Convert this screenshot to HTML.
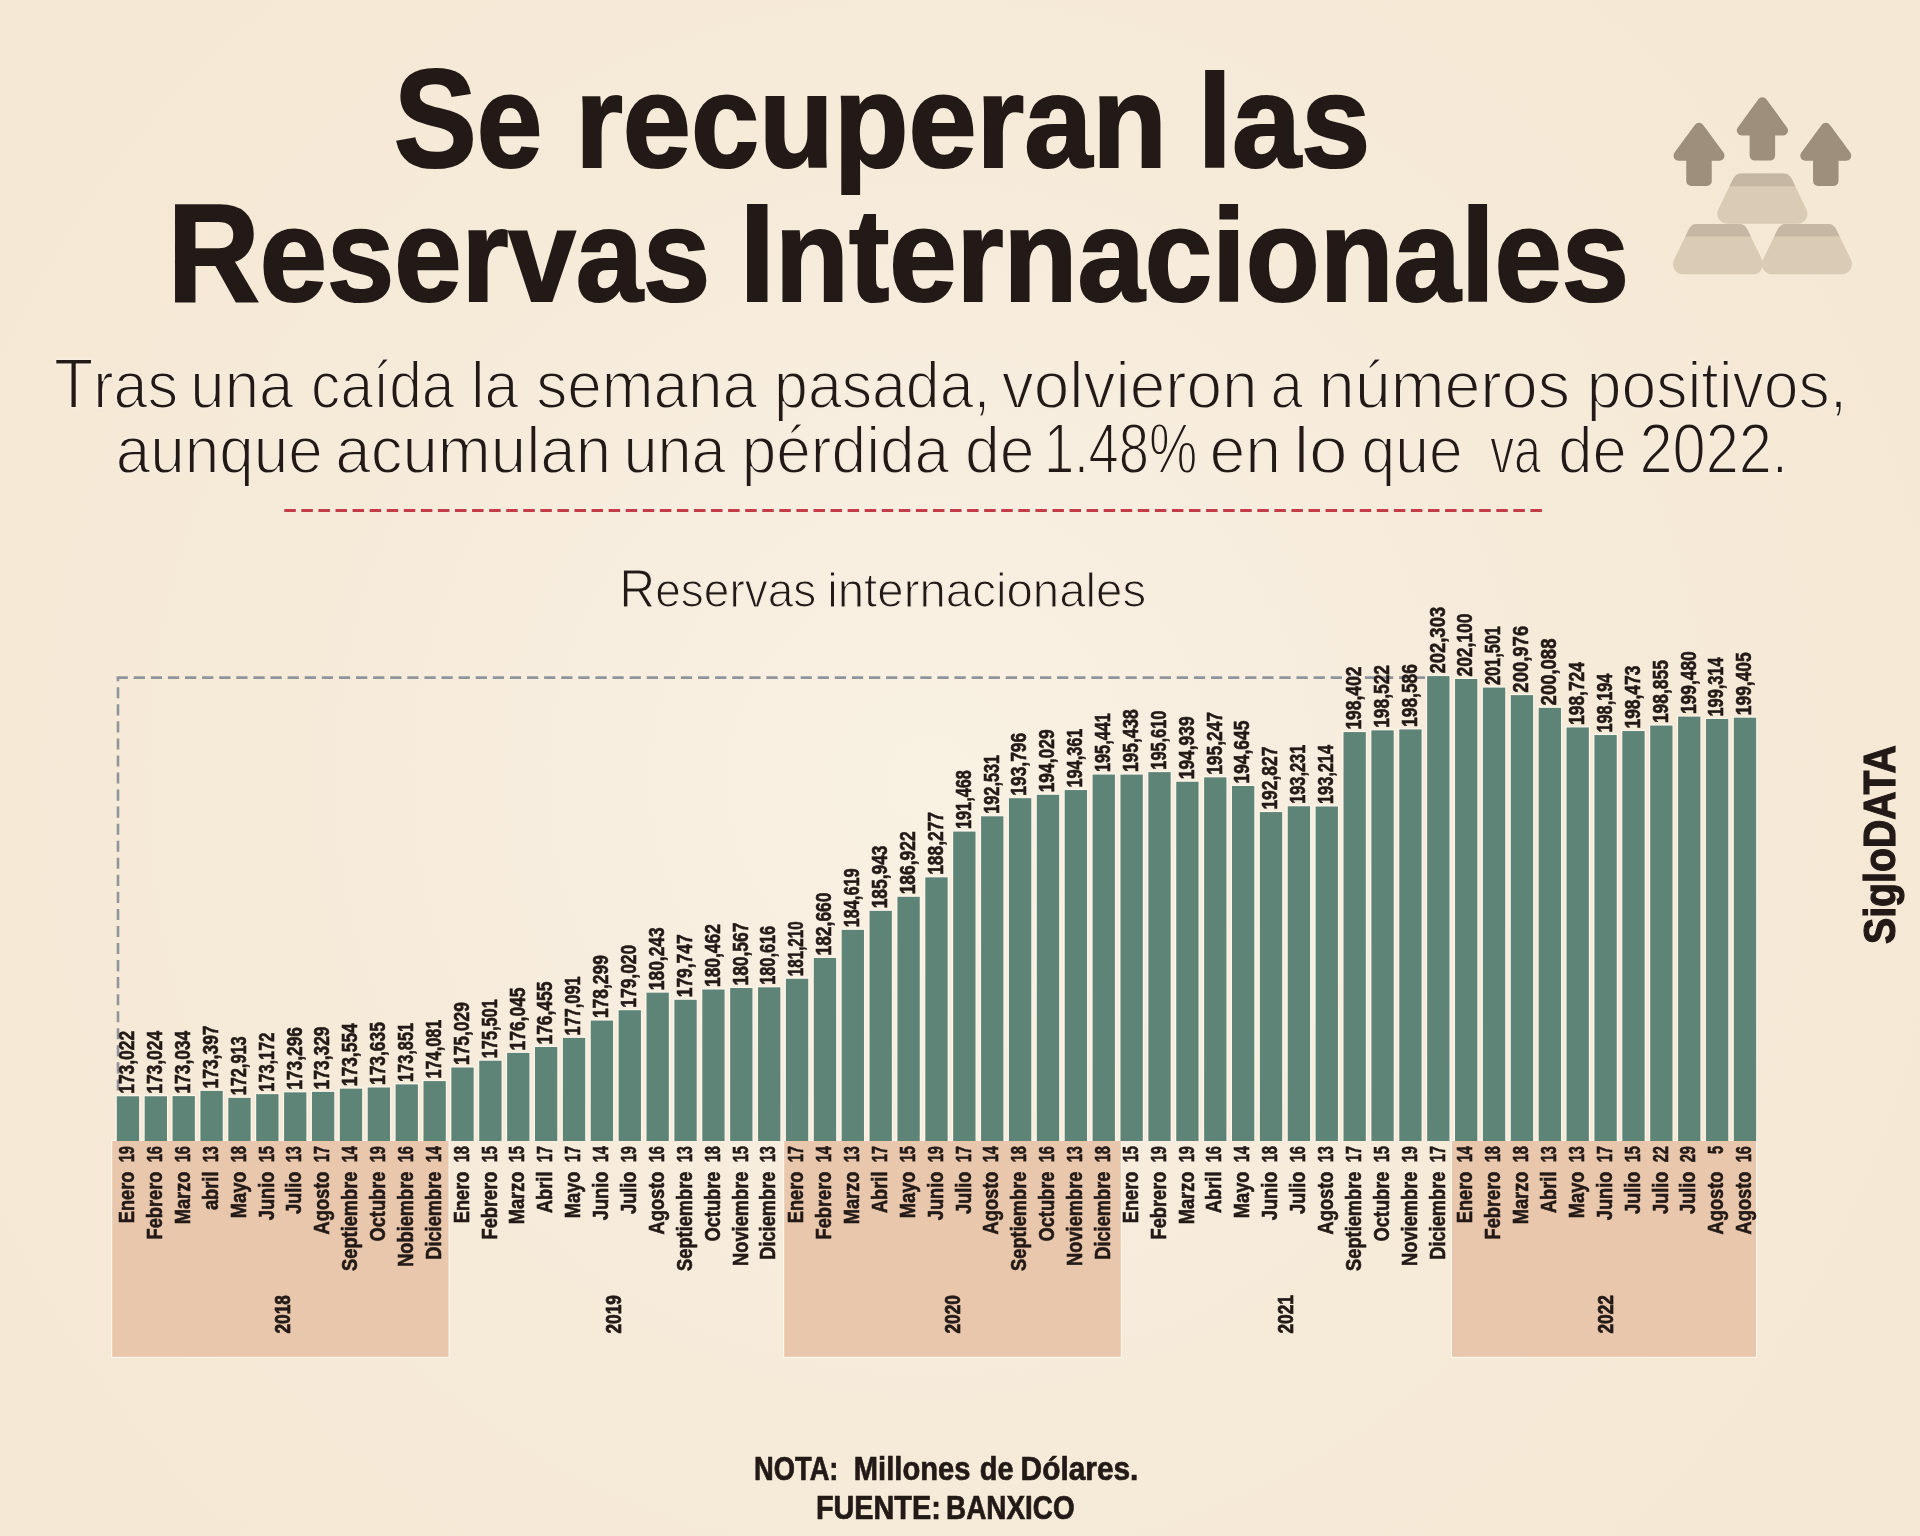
<!DOCTYPE html><html><head><meta charset="utf-8"><title>Reservas Internacionales</title><style>
html,body{margin:0;padding:0;width:1920px;height:1536px;overflow:hidden;}
body{background:#f5e8d6;}
svg{position:absolute;left:0;top:0;display:block;will-change:transform;}
text{font-family:"Liberation Sans",sans-serif;}
</style></head><body>
<svg width="1920" height="1536" viewBox="0 0 1920 1536">
<defs><radialGradient id="bgg" cx="930" cy="780" r="1050" gradientUnits="userSpaceOnUse">
<stop offset="0" stop-color="#f9f1e2"/>
<stop offset="0.3" stop-color="#f8eee0"/>
<stop offset="0.6" stop-color="#f6ebd9"/>
<stop offset="1" stop-color="#f5e8d5"/>
</radialGradient></defs>
<rect x="0" y="0" width="1920" height="1536" fill="url(#bgg)"/>
<text x="393.79" y="167.00" font-size="131.50" font-weight="bold" fill="#231a17" textLength="148.57" lengthAdjust="spacingAndGlyphs" stroke="#231a17" stroke-width="2.2"><tspan font-size="139">S</tspan>e</text>
<text x="575.23" y="167.00" font-size="131.50" font-weight="bold" fill="#231a17" textLength="591.83" lengthAdjust="spacingAndGlyphs" stroke="#231a17" stroke-width="2.2">recuperan</text>
<text x="1197.56" y="167.00" font-size="131.50" font-weight="bold" fill="#231a17" textLength="172.67" lengthAdjust="spacingAndGlyphs" stroke="#231a17" stroke-width="2.2">las</text>
<text x="167.55" y="301.00" font-size="131.50" font-weight="bold" fill="#231a17" textLength="542.56" lengthAdjust="spacingAndGlyphs" stroke="#231a17" stroke-width="2.2"><tspan font-size="139">R</tspan>eservas</text>
<text x="739.45" y="301.00" font-size="131.50" font-weight="bold" fill="#231a17" textLength="889.68" lengthAdjust="spacingAndGlyphs" stroke="#231a17" stroke-width="2.2"><tspan font-size="139">I</tspan>nternacionales</text>
<text x="54.03" y="408.00" font-size="67.50" font-weight="normal" fill="#231a17" textLength="124.13" lengthAdjust="spacingAndGlyphs" stroke="#f6ecdd" stroke-width="1.8"><tspan font-size="71">T</tspan>ras</text>
<text x="190.34" y="408.00" font-size="67.50" font-weight="normal" fill="#231a17" textLength="102.95" lengthAdjust="spacingAndGlyphs" stroke="#f6ecdd" stroke-width="1.8">una</text>
<text x="311.12" y="408.00" font-size="67.50" font-weight="normal" fill="#231a17" textLength="143.20" lengthAdjust="spacingAndGlyphs" stroke="#f6ecdd" stroke-width="1.8">caída</text>
<text x="470.98" y="408.00" font-size="67.50" font-weight="normal" fill="#231a17" textLength="47.50" lengthAdjust="spacingAndGlyphs" stroke="#f6ecdd" stroke-width="1.8">la</text>
<text x="536.15" y="408.00" font-size="67.50" font-weight="normal" fill="#231a17" textLength="220.82" lengthAdjust="spacingAndGlyphs" stroke="#f6ecdd" stroke-width="1.8">semana</text>
<text x="774.08" y="408.00" font-size="67.50" font-weight="normal" fill="#231a17" textLength="216.29" lengthAdjust="spacingAndGlyphs" stroke="#f6ecdd" stroke-width="1.8">pasada,</text>
<text x="1001.87" y="408.00" font-size="67.50" font-weight="normal" fill="#231a17" textLength="255.67" lengthAdjust="spacingAndGlyphs" stroke="#f6ecdd" stroke-width="1.8">volvieron</text>
<text x="1270.62" y="408.00" font-size="67.50" font-weight="normal" fill="#231a17" textLength="32.32" lengthAdjust="spacingAndGlyphs" stroke="#f6ecdd" stroke-width="1.8">a</text>
<text x="1318.80" y="408.00" font-size="67.50" font-weight="normal" fill="#231a17" textLength="251.26" lengthAdjust="spacingAndGlyphs" stroke="#f6ecdd" stroke-width="1.8">números</text>
<text x="1586.80" y="408.00" font-size="67.50" font-weight="normal" fill="#231a17" textLength="260.21" lengthAdjust="spacingAndGlyphs" stroke="#f6ecdd" stroke-width="1.8">positivos,</text>
<text x="115.83" y="473.00" font-size="67.50" font-weight="normal" fill="#231a17" textLength="207.03" lengthAdjust="spacingAndGlyphs" stroke="#f6ecdd" stroke-width="1.8">aunque</text>
<text x="335.28" y="473.00" font-size="67.50" font-weight="normal" fill="#231a17" textLength="275.75" lengthAdjust="spacingAndGlyphs" stroke="#f6ecdd" stroke-width="1.8">acumulan</text>
<text x="623.39" y="473.00" font-size="67.50" font-weight="normal" fill="#231a17" textLength="102.35" lengthAdjust="spacingAndGlyphs" stroke="#f6ecdd" stroke-width="1.8">una</text>
<text x="741.65" y="473.00" font-size="67.50" font-weight="normal" fill="#231a17" textLength="207.52" lengthAdjust="spacingAndGlyphs" stroke="#f6ecdd" stroke-width="1.8">pérdida</text>
<text x="964.99" y="473.00" font-size="67.50" font-weight="normal" fill="#231a17" textLength="69.52" lengthAdjust="spacingAndGlyphs" stroke="#f6ecdd" stroke-width="1.8">de</text>
<text x="1043.94" y="473.00" font-size="67.50" font-weight="normal" fill="#231a17" textLength="153.47" lengthAdjust="spacingAndGlyphs" stroke="#f6ecdd" stroke-width="1.8"><tspan font-size="71">1</tspan>.<tspan font-size="71">4</tspan><tspan font-size="71">8</tspan><tspan font-size="71">%</tspan></text>
<text x="1209.41" y="473.00" font-size="67.50" font-weight="normal" fill="#231a17" textLength="71.67" lengthAdjust="spacingAndGlyphs" stroke="#f6ecdd" stroke-width="1.8">en</text>
<text x="1293.68" y="473.00" font-size="67.50" font-weight="normal" fill="#231a17" textLength="54.01" lengthAdjust="spacingAndGlyphs" stroke="#f6ecdd" stroke-width="1.8">lo</text>
<text x="1361.56" y="473.00" font-size="67.50" font-weight="normal" fill="#231a17" textLength="101.00" lengthAdjust="spacingAndGlyphs" stroke="#f6ecdd" stroke-width="1.8">que</text>
<text x="1489.92" y="473.00" font-size="67.50" font-weight="normal" fill="#231a17" textLength="51.02" lengthAdjust="spacingAndGlyphs" stroke="#f6ecdd" stroke-width="1.8">va</text>
<text x="1558.27" y="473.00" font-size="67.50" font-weight="normal" fill="#231a17" textLength="68.46" lengthAdjust="spacingAndGlyphs" stroke="#f6ecdd" stroke-width="1.8">de</text>
<text x="1639.49" y="473.00" font-size="67.50" font-weight="normal" fill="#231a17" textLength="148.22" lengthAdjust="spacingAndGlyphs" stroke="#f6ecdd" stroke-width="1.8"><tspan font-size="71">2</tspan><tspan font-size="71">0</tspan><tspan font-size="71">2</tspan><tspan font-size="71">2</tspan>.</text>
<text x="754.06" y="1479.60" font-size="33.70" font-weight="bold" fill="#231a17" textLength="84.39" lengthAdjust="spacingAndGlyphs" stroke="#231a17" stroke-width="0.7">NOTA:</text>
<text x="853.82" y="1479.60" font-size="33.70" font-weight="bold" fill="#231a17" textLength="116.64" lengthAdjust="spacingAndGlyphs" stroke="#231a17" stroke-width="0.7">Millones</text>
<text x="979.76" y="1479.60" font-size="33.70" font-weight="bold" fill="#231a17" textLength="33.71" lengthAdjust="spacingAndGlyphs" stroke="#231a17" stroke-width="0.7">de</text>
<text x="1020.62" y="1479.60" font-size="33.70" font-weight="bold" fill="#231a17" textLength="117.77" lengthAdjust="spacingAndGlyphs" stroke="#231a17" stroke-width="0.7">Dólares.</text>
<text x="815.89" y="1518.70" font-size="33.70" font-weight="bold" fill="#231a17" textLength="124.87" lengthAdjust="spacingAndGlyphs" stroke="#231a17" stroke-width="0.7">FUENTE:</text>
<text x="946.10" y="1518.70" font-size="33.70" font-weight="bold" fill="#231a17" textLength="128.50" lengthAdjust="spacingAndGlyphs" stroke="#231a17" stroke-width="0.7">BANXICO</text>
<text x="619.32" y="607.20" font-size="49.00" font-weight="normal" fill="#231a17" textLength="197.05" lengthAdjust="spacingAndGlyphs" stroke="#f7eee1" stroke-width="1.2"><tspan font-size="53">R</tspan>eservas</text>
<text x="827.23" y="607.20" font-size="49.00" font-weight="normal" fill="#231a17" textLength="318.94" lengthAdjust="spacingAndGlyphs" stroke="#f7eee1" stroke-width="1.2">internacionales</text>
<line x1="284.3" y1="510.5" x2="1542" y2="510.5" stroke="#c43c48" stroke-width="2.8" stroke-dasharray="11.5 5.57"/>
<rect x="111.00" y="1139.80" width="338.70" height="218.20" fill="#fbf5ea"/>
<rect x="783.00" y="1139.80" width="339.00" height="218.20" fill="#fbf5ea"/>
<rect x="1450.80" y="1139.80" width="306.40" height="218.20" fill="#fbf5ea"/>
<rect x="112.20" y="1141.00" width="336.30" height="215.80" fill="#e9c7ac"/>
<rect x="784.20" y="1141.00" width="336.60" height="215.80" fill="#e9c7ac"/>
<rect x="1452.00" y="1141.00" width="304.00" height="215.80" fill="#e9c7ac"/>
<path d="M118 1090.5 V677.6" fill="none" stroke="#8f959b" stroke-width="2.6" stroke-dasharray="11.1 5.95"/>
<path d="M116.6 677.6 H1425" fill="none" stroke="#8f959b" stroke-width="2.6" stroke-dasharray="11.25 5.85"/>
<rect x="115.60" y="1095.10" width="24.70" height="45.90" fill="#fbf5ea"/>
<rect x="116.80" y="1096.30" width="22.30" height="44.70" fill="#5e8477" stroke="none" stroke-width="0"/>
<rect x="143.48" y="1095.07" width="24.70" height="45.93" fill="#fbf5ea"/>
<rect x="144.68" y="1096.27" width="22.30" height="44.73" fill="#5e8477" stroke="none" stroke-width="0"/>
<rect x="171.36" y="1094.92" width="24.70" height="46.08" fill="#fbf5ea"/>
<rect x="172.56" y="1096.12" width="22.30" height="44.88" fill="#5e8477" stroke="none" stroke-width="0"/>
<rect x="199.24" y="1089.71" width="24.70" height="51.29" fill="#fbf5ea"/>
<rect x="200.44" y="1090.91" width="22.30" height="50.09" fill="#5e8477" stroke="none" stroke-width="0"/>
<rect x="227.12" y="1096.66" width="24.70" height="44.34" fill="#fbf5ea"/>
<rect x="228.32" y="1097.86" width="22.30" height="43.14" fill="#5e8477" stroke="none" stroke-width="0"/>
<rect x="255.00" y="1092.94" width="24.70" height="48.06" fill="#fbf5ea"/>
<rect x="256.20" y="1094.14" width="22.30" height="46.86" fill="#5e8477" stroke="none" stroke-width="0"/>
<rect x="282.88" y="1091.16" width="24.70" height="49.84" fill="#fbf5ea"/>
<rect x="284.08" y="1092.36" width="22.30" height="48.64" fill="#5e8477" stroke="none" stroke-width="0"/>
<rect x="310.76" y="1090.69" width="24.70" height="50.31" fill="#fbf5ea"/>
<rect x="311.96" y="1091.89" width="22.30" height="49.11" fill="#5e8477" stroke="none" stroke-width="0"/>
<rect x="338.64" y="1087.46" width="24.70" height="53.54" fill="#fbf5ea"/>
<rect x="339.84" y="1088.66" width="22.30" height="52.34" fill="#5e8477" stroke="none" stroke-width="0"/>
<rect x="366.52" y="1086.30" width="24.70" height="54.70" fill="#fbf5ea"/>
<rect x="367.72" y="1087.50" width="22.30" height="53.50" fill="#5e8477" stroke="none" stroke-width="0"/>
<rect x="394.40" y="1083.20" width="24.70" height="57.80" fill="#fbf5ea"/>
<rect x="395.60" y="1084.40" width="22.30" height="56.60" fill="#5e8477" stroke="none" stroke-width="0"/>
<rect x="422.28" y="1079.90" width="24.70" height="61.10" fill="#fbf5ea"/>
<rect x="423.48" y="1081.10" width="22.30" height="59.90" fill="#5e8477" stroke="none" stroke-width="0"/>
<rect x="450.16" y="1066.29" width="24.70" height="74.71" fill="#fbf5ea"/>
<rect x="451.36" y="1067.49" width="22.30" height="73.51" fill="#5e8477" stroke="none" stroke-width="0"/>
<rect x="478.04" y="1059.52" width="24.70" height="81.48" fill="#fbf5ea"/>
<rect x="479.24" y="1060.72" width="22.30" height="80.28" fill="#5e8477" stroke="none" stroke-width="0"/>
<rect x="505.92" y="1051.71" width="24.70" height="89.29" fill="#fbf5ea"/>
<rect x="507.12" y="1052.91" width="22.30" height="88.09" fill="#5e8477" stroke="none" stroke-width="0"/>
<rect x="533.80" y="1045.83" width="24.70" height="95.17" fill="#fbf5ea"/>
<rect x="535.00" y="1047.03" width="22.30" height="93.97" fill="#5e8477" stroke="none" stroke-width="0"/>
<rect x="561.68" y="1036.70" width="24.70" height="104.30" fill="#fbf5ea"/>
<rect x="562.88" y="1037.90" width="22.30" height="103.10" fill="#5e8477" stroke="none" stroke-width="0"/>
<rect x="589.56" y="1019.37" width="24.70" height="121.63" fill="#fbf5ea"/>
<rect x="590.76" y="1020.57" width="22.30" height="120.43" fill="#5e8477" stroke="none" stroke-width="0"/>
<rect x="617.44" y="1009.02" width="24.70" height="131.98" fill="#fbf5ea"/>
<rect x="618.64" y="1010.22" width="22.30" height="130.78" fill="#5e8477" stroke="none" stroke-width="0"/>
<rect x="645.32" y="991.47" width="24.70" height="149.53" fill="#fbf5ea"/>
<rect x="646.52" y="992.67" width="22.30" height="148.33" fill="#5e8477" stroke="none" stroke-width="0"/>
<rect x="673.20" y="998.59" width="24.70" height="142.41" fill="#fbf5ea"/>
<rect x="674.40" y="999.79" width="22.30" height="141.21" fill="#5e8477" stroke="none" stroke-width="0"/>
<rect x="701.08" y="988.33" width="24.70" height="152.67" fill="#fbf5ea"/>
<rect x="702.28" y="989.53" width="22.30" height="151.47" fill="#5e8477" stroke="none" stroke-width="0"/>
<rect x="728.96" y="986.82" width="24.70" height="154.18" fill="#fbf5ea"/>
<rect x="730.16" y="988.02" width="22.30" height="152.98" fill="#5e8477" stroke="none" stroke-width="0"/>
<rect x="756.84" y="986.12" width="24.70" height="154.88" fill="#fbf5ea"/>
<rect x="758.04" y="987.32" width="22.30" height="153.68" fill="#5e8477" stroke="none" stroke-width="0"/>
<rect x="784.72" y="977.59" width="24.70" height="163.41" fill="#fbf5ea"/>
<rect x="785.92" y="978.79" width="22.30" height="162.21" fill="#5e8477" stroke="none" stroke-width="0"/>
<rect x="812.60" y="956.78" width="24.70" height="184.22" fill="#fbf5ea"/>
<rect x="813.80" y="957.98" width="22.30" height="183.02" fill="#5e8477" stroke="none" stroke-width="0"/>
<rect x="840.48" y="928.67" width="24.70" height="212.33" fill="#fbf5ea"/>
<rect x="841.68" y="929.87" width="22.30" height="211.13" fill="#5e8477" stroke="none" stroke-width="0"/>
<rect x="868.36" y="909.67" width="24.70" height="231.33" fill="#fbf5ea"/>
<rect x="869.56" y="910.87" width="22.30" height="230.13" fill="#5e8477" stroke="none" stroke-width="0"/>
<rect x="896.24" y="895.62" width="24.70" height="245.38" fill="#fbf5ea"/>
<rect x="897.44" y="896.82" width="22.30" height="244.18" fill="#5e8477" stroke="none" stroke-width="0"/>
<rect x="924.12" y="876.17" width="24.70" height="264.83" fill="#fbf5ea"/>
<rect x="925.32" y="877.37" width="22.30" height="263.63" fill="#5e8477" stroke="none" stroke-width="0"/>
<rect x="952.00" y="830.38" width="24.70" height="310.62" fill="#fbf5ea"/>
<rect x="953.20" y="831.58" width="22.30" height="309.42" fill="#5e8477" stroke="none" stroke-width="0"/>
<rect x="979.88" y="815.13" width="24.70" height="325.87" fill="#fbf5ea"/>
<rect x="981.08" y="816.33" width="22.30" height="324.67" fill="#5e8477" stroke="none" stroke-width="0"/>
<rect x="1007.76" y="796.97" width="24.70" height="344.03" fill="#fbf5ea"/>
<rect x="1008.96" y="798.17" width="22.30" height="342.83" fill="#5e8477" stroke="none" stroke-width="0"/>
<rect x="1035.64" y="793.63" width="24.70" height="347.37" fill="#fbf5ea"/>
<rect x="1036.84" y="794.83" width="22.30" height="346.17" fill="#5e8477" stroke="none" stroke-width="0"/>
<rect x="1063.52" y="788.86" width="24.70" height="352.14" fill="#fbf5ea"/>
<rect x="1064.72" y="790.06" width="22.30" height="350.94" fill="#5e8477" stroke="none" stroke-width="0"/>
<rect x="1091.40" y="773.37" width="24.70" height="367.63" fill="#fbf5ea"/>
<rect x="1092.60" y="774.57" width="22.30" height="366.43" fill="#5e8477" stroke="none" stroke-width="0"/>
<rect x="1119.28" y="773.41" width="24.70" height="367.59" fill="#fbf5ea"/>
<rect x="1120.48" y="774.61" width="22.30" height="366.39" fill="#5e8477" stroke="none" stroke-width="0"/>
<rect x="1147.16" y="770.94" width="24.70" height="370.06" fill="#fbf5ea"/>
<rect x="1148.36" y="772.14" width="22.30" height="368.86" fill="#5e8477" stroke="none" stroke-width="0"/>
<rect x="1175.04" y="780.57" width="24.70" height="360.43" fill="#fbf5ea"/>
<rect x="1176.24" y="781.77" width="22.30" height="359.23" fill="#5e8477" stroke="none" stroke-width="0"/>
<rect x="1202.92" y="776.15" width="24.70" height="364.85" fill="#fbf5ea"/>
<rect x="1204.12" y="777.35" width="22.30" height="363.65" fill="#5e8477" stroke="none" stroke-width="0"/>
<rect x="1230.80" y="784.79" width="24.70" height="356.21" fill="#fbf5ea"/>
<rect x="1232.00" y="785.99" width="22.30" height="355.01" fill="#5e8477" stroke="none" stroke-width="0"/>
<rect x="1258.68" y="810.88" width="24.70" height="330.12" fill="#fbf5ea"/>
<rect x="1259.88" y="812.08" width="22.30" height="328.92" fill="#5e8477" stroke="none" stroke-width="0"/>
<rect x="1286.56" y="805.08" width="24.70" height="335.92" fill="#fbf5ea"/>
<rect x="1287.76" y="806.28" width="22.30" height="334.72" fill="#5e8477" stroke="none" stroke-width="0"/>
<rect x="1314.44" y="805.32" width="24.70" height="335.68" fill="#fbf5ea"/>
<rect x="1315.64" y="806.52" width="22.30" height="334.48" fill="#5e8477" stroke="none" stroke-width="0"/>
<rect x="1342.32" y="730.87" width="24.70" height="410.13" fill="#fbf5ea"/>
<rect x="1343.52" y="732.07" width="22.30" height="408.93" fill="#5e8477" stroke="none" stroke-width="0"/>
<rect x="1370.20" y="729.15" width="24.70" height="411.85" fill="#fbf5ea"/>
<rect x="1371.40" y="730.35" width="22.30" height="410.65" fill="#5e8477" stroke="none" stroke-width="0"/>
<rect x="1398.08" y="728.23" width="24.70" height="412.77" fill="#fbf5ea"/>
<rect x="1399.28" y="729.43" width="22.30" height="411.57" fill="#5e8477" stroke="none" stroke-width="0"/>
<rect x="1425.96" y="674.89" width="24.70" height="466.11" fill="#fbf5ea"/>
<rect x="1427.16" y="676.09" width="22.30" height="464.91" fill="#5e8477" stroke="none" stroke-width="0"/>
<rect x="1453.84" y="677.80" width="24.70" height="463.20" fill="#fbf5ea"/>
<rect x="1455.04" y="679.00" width="22.30" height="462.00" fill="#5e8477" stroke="none" stroke-width="0"/>
<rect x="1481.72" y="686.40" width="24.70" height="454.60" fill="#fbf5ea"/>
<rect x="1482.92" y="687.60" width="22.30" height="453.40" fill="#5e8477" stroke="none" stroke-width="0"/>
<rect x="1509.60" y="693.93" width="24.70" height="447.07" fill="#fbf5ea"/>
<rect x="1510.80" y="695.13" width="22.30" height="445.87" fill="#5e8477" stroke="none" stroke-width="0"/>
<rect x="1537.48" y="706.68" width="24.70" height="434.32" fill="#fbf5ea"/>
<rect x="1538.68" y="707.88" width="22.30" height="433.12" fill="#5e8477" stroke="none" stroke-width="0"/>
<rect x="1565.36" y="726.25" width="24.70" height="414.75" fill="#fbf5ea"/>
<rect x="1566.56" y="727.45" width="22.30" height="413.55" fill="#5e8477" stroke="none" stroke-width="0"/>
<rect x="1593.24" y="733.86" width="24.70" height="407.14" fill="#fbf5ea"/>
<rect x="1594.44" y="735.06" width="22.30" height="405.94" fill="#5e8477" stroke="none" stroke-width="0"/>
<rect x="1621.12" y="729.85" width="24.70" height="411.15" fill="#fbf5ea"/>
<rect x="1622.32" y="731.05" width="22.30" height="409.95" fill="#5e8477" stroke="none" stroke-width="0"/>
<rect x="1649.00" y="724.37" width="24.70" height="416.63" fill="#fbf5ea"/>
<rect x="1650.20" y="725.57" width="22.30" height="415.43" fill="#5e8477" stroke="none" stroke-width="0"/>
<rect x="1676.88" y="715.40" width="24.70" height="425.60" fill="#fbf5ea"/>
<rect x="1678.08" y="716.60" width="22.30" height="424.40" fill="#5e8477" stroke="none" stroke-width="0"/>
<rect x="1704.76" y="717.78" width="24.70" height="423.22" fill="#fbf5ea"/>
<rect x="1705.96" y="718.98" width="22.30" height="422.02" fill="#5e8477" stroke="none" stroke-width="0"/>
<rect x="1732.64" y="716.48" width="24.70" height="424.52" fill="#fbf5ea"/>
<rect x="1733.84" y="717.68" width="22.30" height="423.32" fill="#5e8477" stroke="none" stroke-width="0"/>
<text transform="translate(134.25 1093.80) rotate(-90)" x="0" y="0" font-size="22" font-weight="bold" fill="#231a17" stroke="#231a17" stroke-width="0.6" textLength="62.90" lengthAdjust="spacingAndGlyphs">173,022</text>
<text transform="translate(162.13 1093.77) rotate(-90)" x="0" y="0" font-size="22" font-weight="bold" fill="#231a17" stroke="#231a17" stroke-width="0.6" textLength="62.90" lengthAdjust="spacingAndGlyphs">173,024</text>
<text transform="translate(190.01 1093.62) rotate(-90)" x="0" y="0" font-size="22" font-weight="bold" fill="#231a17" stroke="#231a17" stroke-width="0.6" textLength="62.90" lengthAdjust="spacingAndGlyphs">173,034</text>
<text transform="translate(217.89 1088.41) rotate(-90)" x="0" y="0" font-size="22" font-weight="bold" fill="#231a17" stroke="#231a17" stroke-width="0.6" textLength="62.90" lengthAdjust="spacingAndGlyphs">173,397</text>
<text transform="translate(245.77 1095.36) rotate(-90)" x="0" y="0" font-size="22" font-weight="bold" fill="#231a17" stroke="#231a17" stroke-width="0.6" textLength="59.00" lengthAdjust="spacingAndGlyphs">172,913</text>
<text transform="translate(273.65 1091.64) rotate(-90)" x="0" y="0" font-size="22" font-weight="bold" fill="#231a17" stroke="#231a17" stroke-width="0.6" textLength="59.00" lengthAdjust="spacingAndGlyphs">173,172</text>
<text transform="translate(301.53 1089.86) rotate(-90)" x="0" y="0" font-size="22" font-weight="bold" fill="#231a17" stroke="#231a17" stroke-width="0.6" textLength="62.90" lengthAdjust="spacingAndGlyphs">173,296</text>
<text transform="translate(329.41 1089.39) rotate(-90)" x="0" y="0" font-size="22" font-weight="bold" fill="#231a17" stroke="#231a17" stroke-width="0.6" textLength="62.90" lengthAdjust="spacingAndGlyphs">173,329</text>
<text transform="translate(357.29 1086.16) rotate(-90)" x="0" y="0" font-size="22" font-weight="bold" fill="#231a17" stroke="#231a17" stroke-width="0.6" textLength="62.90" lengthAdjust="spacingAndGlyphs">173,554</text>
<text transform="translate(385.17 1085.00) rotate(-90)" x="0" y="0" font-size="22" font-weight="bold" fill="#231a17" stroke="#231a17" stroke-width="0.6" textLength="62.90" lengthAdjust="spacingAndGlyphs">173,635</text>
<text transform="translate(413.05 1081.90) rotate(-90)" x="0" y="0" font-size="22" font-weight="bold" fill="#231a17" stroke="#231a17" stroke-width="0.6" textLength="59.00" lengthAdjust="spacingAndGlyphs">173,851</text>
<text transform="translate(440.93 1078.60) rotate(-90)" x="0" y="0" font-size="22" font-weight="bold" fill="#231a17" stroke="#231a17" stroke-width="0.6" textLength="59.00" lengthAdjust="spacingAndGlyphs">174,081</text>
<text transform="translate(468.81 1064.99) rotate(-90)" x="0" y="0" font-size="22" font-weight="bold" fill="#231a17" stroke="#231a17" stroke-width="0.6" textLength="62.90" lengthAdjust="spacingAndGlyphs">175,029</text>
<text transform="translate(496.69 1058.22) rotate(-90)" x="0" y="0" font-size="22" font-weight="bold" fill="#231a17" stroke="#231a17" stroke-width="0.6" textLength="59.00" lengthAdjust="spacingAndGlyphs">175,501</text>
<text transform="translate(524.57 1050.41) rotate(-90)" x="0" y="0" font-size="22" font-weight="bold" fill="#231a17" stroke="#231a17" stroke-width="0.6" textLength="62.90" lengthAdjust="spacingAndGlyphs">176,045</text>
<text transform="translate(552.45 1044.53) rotate(-90)" x="0" y="0" font-size="22" font-weight="bold" fill="#231a17" stroke="#231a17" stroke-width="0.6" textLength="62.90" lengthAdjust="spacingAndGlyphs">176,455</text>
<text transform="translate(580.33 1035.40) rotate(-90)" x="0" y="0" font-size="22" font-weight="bold" fill="#231a17" stroke="#231a17" stroke-width="0.6" textLength="59.00" lengthAdjust="spacingAndGlyphs">177,091</text>
<text transform="translate(608.21 1018.07) rotate(-90)" x="0" y="0" font-size="22" font-weight="bold" fill="#231a17" stroke="#231a17" stroke-width="0.6" textLength="62.90" lengthAdjust="spacingAndGlyphs">178,299</text>
<text transform="translate(636.09 1007.72) rotate(-90)" x="0" y="0" font-size="22" font-weight="bold" fill="#231a17" stroke="#231a17" stroke-width="0.6" textLength="62.90" lengthAdjust="spacingAndGlyphs">179,020</text>
<text transform="translate(663.97 990.17) rotate(-90)" x="0" y="0" font-size="22" font-weight="bold" fill="#231a17" stroke="#231a17" stroke-width="0.6" textLength="62.90" lengthAdjust="spacingAndGlyphs">180,243</text>
<text transform="translate(691.85 997.29) rotate(-90)" x="0" y="0" font-size="22" font-weight="bold" fill="#231a17" stroke="#231a17" stroke-width="0.6" textLength="62.90" lengthAdjust="spacingAndGlyphs">179,747</text>
<text transform="translate(719.73 987.03) rotate(-90)" x="0" y="0" font-size="22" font-weight="bold" fill="#231a17" stroke="#231a17" stroke-width="0.6" textLength="62.90" lengthAdjust="spacingAndGlyphs">180,462</text>
<text transform="translate(747.61 985.52) rotate(-90)" x="0" y="0" font-size="22" font-weight="bold" fill="#231a17" stroke="#231a17" stroke-width="0.6" textLength="62.90" lengthAdjust="spacingAndGlyphs">180,567</text>
<text transform="translate(775.49 984.82) rotate(-90)" x="0" y="0" font-size="22" font-weight="bold" fill="#231a17" stroke="#231a17" stroke-width="0.6" textLength="59.00" lengthAdjust="spacingAndGlyphs">180,616</text>
<text transform="translate(803.37 976.29) rotate(-90)" x="0" y="0" font-size="22" font-weight="bold" fill="#231a17" stroke="#231a17" stroke-width="0.6" textLength="55.10" lengthAdjust="spacingAndGlyphs">181,210</text>
<text transform="translate(831.25 955.48) rotate(-90)" x="0" y="0" font-size="22" font-weight="bold" fill="#231a17" stroke="#231a17" stroke-width="0.6" textLength="62.90" lengthAdjust="spacingAndGlyphs">182,660</text>
<text transform="translate(859.13 927.37) rotate(-90)" x="0" y="0" font-size="22" font-weight="bold" fill="#231a17" stroke="#231a17" stroke-width="0.6" textLength="59.00" lengthAdjust="spacingAndGlyphs">184,619</text>
<text transform="translate(887.01 908.37) rotate(-90)" x="0" y="0" font-size="22" font-weight="bold" fill="#231a17" stroke="#231a17" stroke-width="0.6" textLength="62.90" lengthAdjust="spacingAndGlyphs">185,943</text>
<text transform="translate(914.89 894.32) rotate(-90)" x="0" y="0" font-size="22" font-weight="bold" fill="#231a17" stroke="#231a17" stroke-width="0.6" textLength="62.90" lengthAdjust="spacingAndGlyphs">186,922</text>
<text transform="translate(942.77 874.87) rotate(-90)" x="0" y="0" font-size="22" font-weight="bold" fill="#231a17" stroke="#231a17" stroke-width="0.6" textLength="62.90" lengthAdjust="spacingAndGlyphs">188,277</text>
<text transform="translate(970.65 829.08) rotate(-90)" x="0" y="0" font-size="22" font-weight="bold" fill="#231a17" stroke="#231a17" stroke-width="0.6" textLength="59.00" lengthAdjust="spacingAndGlyphs">191,468</text>
<text transform="translate(998.53 813.83) rotate(-90)" x="0" y="0" font-size="22" font-weight="bold" fill="#231a17" stroke="#231a17" stroke-width="0.6" textLength="59.00" lengthAdjust="spacingAndGlyphs">192,531</text>
<text transform="translate(1026.41 795.67) rotate(-90)" x="0" y="0" font-size="22" font-weight="bold" fill="#231a17" stroke="#231a17" stroke-width="0.6" textLength="62.90" lengthAdjust="spacingAndGlyphs">193,796</text>
<text transform="translate(1054.29 792.33) rotate(-90)" x="0" y="0" font-size="22" font-weight="bold" fill="#231a17" stroke="#231a17" stroke-width="0.6" textLength="62.90" lengthAdjust="spacingAndGlyphs">194,029</text>
<text transform="translate(1082.17 787.56) rotate(-90)" x="0" y="0" font-size="22" font-weight="bold" fill="#231a17" stroke="#231a17" stroke-width="0.6" textLength="59.00" lengthAdjust="spacingAndGlyphs">194,361</text>
<text transform="translate(1110.05 772.07) rotate(-90)" x="0" y="0" font-size="22" font-weight="bold" fill="#231a17" stroke="#231a17" stroke-width="0.6" textLength="59.00" lengthAdjust="spacingAndGlyphs">195,441</text>
<text transform="translate(1137.93 772.11) rotate(-90)" x="0" y="0" font-size="22" font-weight="bold" fill="#231a17" stroke="#231a17" stroke-width="0.6" textLength="62.90" lengthAdjust="spacingAndGlyphs">195,438</text>
<text transform="translate(1165.81 769.64) rotate(-90)" x="0" y="0" font-size="22" font-weight="bold" fill="#231a17" stroke="#231a17" stroke-width="0.6" textLength="59.00" lengthAdjust="spacingAndGlyphs">195,610</text>
<text transform="translate(1193.69 779.27) rotate(-90)" x="0" y="0" font-size="22" font-weight="bold" fill="#231a17" stroke="#231a17" stroke-width="0.6" textLength="62.90" lengthAdjust="spacingAndGlyphs">194,939</text>
<text transform="translate(1221.57 774.85) rotate(-90)" x="0" y="0" font-size="22" font-weight="bold" fill="#231a17" stroke="#231a17" stroke-width="0.6" textLength="62.90" lengthAdjust="spacingAndGlyphs">195,247</text>
<text transform="translate(1249.45 783.49) rotate(-90)" x="0" y="0" font-size="22" font-weight="bold" fill="#231a17" stroke="#231a17" stroke-width="0.6" textLength="62.90" lengthAdjust="spacingAndGlyphs">194,645</text>
<text transform="translate(1277.33 809.58) rotate(-90)" x="0" y="0" font-size="22" font-weight="bold" fill="#231a17" stroke="#231a17" stroke-width="0.6" textLength="62.90" lengthAdjust="spacingAndGlyphs">192,827</text>
<text transform="translate(1305.21 803.78) rotate(-90)" x="0" y="0" font-size="22" font-weight="bold" fill="#231a17" stroke="#231a17" stroke-width="0.6" textLength="59.00" lengthAdjust="spacingAndGlyphs">193,231</text>
<text transform="translate(1333.09 804.02) rotate(-90)" x="0" y="0" font-size="22" font-weight="bold" fill="#231a17" stroke="#231a17" stroke-width="0.6" textLength="59.00" lengthAdjust="spacingAndGlyphs">193,214</text>
<text transform="translate(1360.97 729.57) rotate(-90)" x="0" y="0" font-size="22" font-weight="bold" fill="#231a17" stroke="#231a17" stroke-width="0.6" textLength="62.90" lengthAdjust="spacingAndGlyphs">198,402</text>
<text transform="translate(1388.85 727.85) rotate(-90)" x="0" y="0" font-size="22" font-weight="bold" fill="#231a17" stroke="#231a17" stroke-width="0.6" textLength="62.90" lengthAdjust="spacingAndGlyphs">198,522</text>
<text transform="translate(1416.73 726.93) rotate(-90)" x="0" y="0" font-size="22" font-weight="bold" fill="#231a17" stroke="#231a17" stroke-width="0.6" textLength="62.90" lengthAdjust="spacingAndGlyphs">198,586</text>
<text transform="translate(1444.61 673.59) rotate(-90)" x="0" y="0" font-size="22" font-weight="bold" fill="#231a17" stroke="#231a17" stroke-width="0.6" textLength="66.80" lengthAdjust="spacingAndGlyphs">202,303</text>
<text transform="translate(1472.49 676.50) rotate(-90)" x="0" y="0" font-size="22" font-weight="bold" fill="#231a17" stroke="#231a17" stroke-width="0.6" textLength="62.90" lengthAdjust="spacingAndGlyphs">202,100</text>
<text transform="translate(1500.37 685.10) rotate(-90)" x="0" y="0" font-size="22" font-weight="bold" fill="#231a17" stroke="#231a17" stroke-width="0.6" textLength="59.00" lengthAdjust="spacingAndGlyphs">201,501</text>
<text transform="translate(1528.25 692.63) rotate(-90)" x="0" y="0" font-size="22" font-weight="bold" fill="#231a17" stroke="#231a17" stroke-width="0.6" textLength="66.80" lengthAdjust="spacingAndGlyphs">200,976</text>
<text transform="translate(1556.13 705.38) rotate(-90)" x="0" y="0" font-size="22" font-weight="bold" fill="#231a17" stroke="#231a17" stroke-width="0.6" textLength="66.80" lengthAdjust="spacingAndGlyphs">200,088</text>
<text transform="translate(1584.01 724.95) rotate(-90)" x="0" y="0" font-size="22" font-weight="bold" fill="#231a17" stroke="#231a17" stroke-width="0.6" textLength="62.90" lengthAdjust="spacingAndGlyphs">198,724</text>
<text transform="translate(1611.89 732.56) rotate(-90)" x="0" y="0" font-size="22" font-weight="bold" fill="#231a17" stroke="#231a17" stroke-width="0.6" textLength="59.00" lengthAdjust="spacingAndGlyphs">198,194</text>
<text transform="translate(1639.77 728.55) rotate(-90)" x="0" y="0" font-size="22" font-weight="bold" fill="#231a17" stroke="#231a17" stroke-width="0.6" textLength="62.90" lengthAdjust="spacingAndGlyphs">198,473</text>
<text transform="translate(1667.65 723.07) rotate(-90)" x="0" y="0" font-size="22" font-weight="bold" fill="#231a17" stroke="#231a17" stroke-width="0.6" textLength="62.90" lengthAdjust="spacingAndGlyphs">198,855</text>
<text transform="translate(1695.53 714.10) rotate(-90)" x="0" y="0" font-size="22" font-weight="bold" fill="#231a17" stroke="#231a17" stroke-width="0.6" textLength="62.90" lengthAdjust="spacingAndGlyphs">199,480</text>
<text transform="translate(1723.41 716.48) rotate(-90)" x="0" y="0" font-size="22" font-weight="bold" fill="#231a17" stroke="#231a17" stroke-width="0.6" textLength="59.00" lengthAdjust="spacingAndGlyphs">199,314</text>
<text transform="translate(1751.29 715.18) rotate(-90)" x="0" y="0" font-size="22" font-weight="bold" fill="#231a17" stroke="#231a17" stroke-width="0.6" textLength="62.90" lengthAdjust="spacingAndGlyphs">199,405</text>
<text transform="translate(134.15 1146.00) rotate(-90)" x="0" y="0" text-anchor="end" font-size="22" font-weight="bold" fill="#231a17" stroke="#231a17" stroke-width="0.6" textLength="16.25" lengthAdjust="spacingAndGlyphs">19</text>
<text transform="translate(134.15 1171.50) rotate(-90)" x="0" y="0" text-anchor="end" font-size="22" font-weight="bold" fill="#231a17" stroke="#231a17" stroke-width="0.6" textLength="51.75" lengthAdjust="spacingAndGlyphs">Enero</text>
<text transform="translate(162.03 1146.00) rotate(-90)" x="0" y="0" text-anchor="end" font-size="22" font-weight="bold" fill="#231a17" stroke="#231a17" stroke-width="0.6" textLength="16.25" lengthAdjust="spacingAndGlyphs">16</text>
<text transform="translate(162.03 1171.50) rotate(-90)" x="0" y="0" text-anchor="end" font-size="22" font-weight="bold" fill="#231a17" stroke="#231a17" stroke-width="0.6" textLength="67.98" lengthAdjust="spacingAndGlyphs">Febrero</text>
<text transform="translate(189.91 1146.00) rotate(-90)" x="0" y="0" text-anchor="end" font-size="22" font-weight="bold" fill="#231a17" stroke="#231a17" stroke-width="0.6" textLength="16.25" lengthAdjust="spacingAndGlyphs">16</text>
<text transform="translate(189.91 1171.50) rotate(-90)" x="0" y="0" text-anchor="end" font-size="22" font-weight="bold" fill="#231a17" stroke="#231a17" stroke-width="0.6" textLength="52.76" lengthAdjust="spacingAndGlyphs">Marzo</text>
<text transform="translate(217.79 1146.00) rotate(-90)" x="0" y="0" text-anchor="end" font-size="22" font-weight="bold" fill="#231a17" stroke="#231a17" stroke-width="0.6" textLength="16.25" lengthAdjust="spacingAndGlyphs">13</text>
<text transform="translate(217.79 1171.50) rotate(-90)" x="0" y="0" text-anchor="end" font-size="22" font-weight="bold" fill="#231a17" stroke="#231a17" stroke-width="0.6" textLength="38.56" lengthAdjust="spacingAndGlyphs">abril</text>
<text transform="translate(245.67 1146.00) rotate(-90)" x="0" y="0" text-anchor="end" font-size="22" font-weight="bold" fill="#231a17" stroke="#231a17" stroke-width="0.6" textLength="16.25" lengthAdjust="spacingAndGlyphs">18</text>
<text transform="translate(245.67 1171.50) rotate(-90)" x="0" y="0" text-anchor="end" font-size="22" font-weight="bold" fill="#231a17" stroke="#231a17" stroke-width="0.6" textLength="46.68" lengthAdjust="spacingAndGlyphs">Mayo</text>
<text transform="translate(273.55 1146.00) rotate(-90)" x="0" y="0" text-anchor="end" font-size="22" font-weight="bold" fill="#231a17" stroke="#231a17" stroke-width="0.6" textLength="16.25" lengthAdjust="spacingAndGlyphs">15</text>
<text transform="translate(273.55 1171.50) rotate(-90)" x="0" y="0" text-anchor="end" font-size="22" font-weight="bold" fill="#231a17" stroke="#231a17" stroke-width="0.6" textLength="48.69" lengthAdjust="spacingAndGlyphs">Junio</text>
<text transform="translate(301.43 1146.00) rotate(-90)" x="0" y="0" text-anchor="end" font-size="22" font-weight="bold" fill="#231a17" stroke="#231a17" stroke-width="0.6" textLength="16.25" lengthAdjust="spacingAndGlyphs">13</text>
<text transform="translate(301.43 1171.50) rotate(-90)" x="0" y="0" text-anchor="end" font-size="22" font-weight="bold" fill="#231a17" stroke="#231a17" stroke-width="0.6" textLength="42.61" lengthAdjust="spacingAndGlyphs">Julio</text>
<text transform="translate(329.31 1146.00) rotate(-90)" x="0" y="0" text-anchor="end" font-size="22" font-weight="bold" fill="#231a17" stroke="#231a17" stroke-width="0.6" textLength="16.25" lengthAdjust="spacingAndGlyphs">17</text>
<text transform="translate(329.31 1171.50) rotate(-90)" x="0" y="0" text-anchor="end" font-size="22" font-weight="bold" fill="#231a17" stroke="#231a17" stroke-width="0.6" textLength="62.88" lengthAdjust="spacingAndGlyphs">Agosto</text>
<text transform="translate(357.19 1146.00) rotate(-90)" x="0" y="0" text-anchor="end" font-size="22" font-weight="bold" fill="#231a17" stroke="#231a17" stroke-width="0.6" textLength="16.25" lengthAdjust="spacingAndGlyphs">14</text>
<text transform="translate(357.19 1171.50) rotate(-90)" x="0" y="0" text-anchor="end" font-size="22" font-weight="bold" fill="#231a17" stroke="#231a17" stroke-width="0.6" textLength="99.45" lengthAdjust="spacingAndGlyphs">Septiembre</text>
<text transform="translate(385.07 1146.00) rotate(-90)" x="0" y="0" text-anchor="end" font-size="22" font-weight="bold" fill="#231a17" stroke="#231a17" stroke-width="0.6" textLength="16.25" lengthAdjust="spacingAndGlyphs">19</text>
<text transform="translate(385.07 1171.50) rotate(-90)" x="0" y="0" text-anchor="end" font-size="22" font-weight="bold" fill="#231a17" stroke="#231a17" stroke-width="0.6" textLength="70.01" lengthAdjust="spacingAndGlyphs">Octubre</text>
<text transform="translate(412.95 1146.00) rotate(-90)" x="0" y="0" text-anchor="end" font-size="22" font-weight="bold" fill="#231a17" stroke="#231a17" stroke-width="0.6" textLength="16.25" lengthAdjust="spacingAndGlyphs">16</text>
<text transform="translate(412.95 1171.50) rotate(-90)" x="0" y="0" text-anchor="end" font-size="22" font-weight="bold" fill="#231a17" stroke="#231a17" stroke-width="0.6" textLength="95.37" lengthAdjust="spacingAndGlyphs">Nobiembre</text>
<text transform="translate(440.83 1146.00) rotate(-90)" x="0" y="0" text-anchor="end" font-size="22" font-weight="bold" fill="#231a17" stroke="#231a17" stroke-width="0.6" textLength="16.25" lengthAdjust="spacingAndGlyphs">14</text>
<text transform="translate(440.83 1171.50) rotate(-90)" x="0" y="0" text-anchor="end" font-size="22" font-weight="bold" fill="#231a17" stroke="#231a17" stroke-width="0.6" textLength="88.30" lengthAdjust="spacingAndGlyphs">Diciembre</text>
<text transform="translate(468.71 1146.00) rotate(-90)" x="0" y="0" text-anchor="end" font-size="22" font-weight="bold" fill="#231a17" stroke="#231a17" stroke-width="0.6" textLength="16.25" lengthAdjust="spacingAndGlyphs">18</text>
<text transform="translate(468.71 1171.50) rotate(-90)" x="0" y="0" text-anchor="end" font-size="22" font-weight="bold" fill="#231a17" stroke="#231a17" stroke-width="0.6" textLength="51.75" lengthAdjust="spacingAndGlyphs">Enero</text>
<text transform="translate(496.59 1146.00) rotate(-90)" x="0" y="0" text-anchor="end" font-size="22" font-weight="bold" fill="#231a17" stroke="#231a17" stroke-width="0.6" textLength="16.25" lengthAdjust="spacingAndGlyphs">15</text>
<text transform="translate(496.59 1171.50) rotate(-90)" x="0" y="0" text-anchor="end" font-size="22" font-weight="bold" fill="#231a17" stroke="#231a17" stroke-width="0.6" textLength="67.98" lengthAdjust="spacingAndGlyphs">Febrero</text>
<text transform="translate(524.47 1146.00) rotate(-90)" x="0" y="0" text-anchor="end" font-size="22" font-weight="bold" fill="#231a17" stroke="#231a17" stroke-width="0.6" textLength="16.25" lengthAdjust="spacingAndGlyphs">15</text>
<text transform="translate(524.47 1171.50) rotate(-90)" x="0" y="0" text-anchor="end" font-size="22" font-weight="bold" fill="#231a17" stroke="#231a17" stroke-width="0.6" textLength="52.76" lengthAdjust="spacingAndGlyphs">Marzo</text>
<text transform="translate(552.35 1146.00) rotate(-90)" x="0" y="0" text-anchor="end" font-size="22" font-weight="bold" fill="#231a17" stroke="#231a17" stroke-width="0.6" textLength="16.25" lengthAdjust="spacingAndGlyphs">17</text>
<text transform="translate(552.35 1171.50) rotate(-90)" x="0" y="0" text-anchor="end" font-size="22" font-weight="bold" fill="#231a17" stroke="#231a17" stroke-width="0.6" textLength="41.59" lengthAdjust="spacingAndGlyphs">Abril</text>
<text transform="translate(580.23 1146.00) rotate(-90)" x="0" y="0" text-anchor="end" font-size="22" font-weight="bold" fill="#231a17" stroke="#231a17" stroke-width="0.6" textLength="16.25" lengthAdjust="spacingAndGlyphs">17</text>
<text transform="translate(580.23 1171.50) rotate(-90)" x="0" y="0" text-anchor="end" font-size="22" font-weight="bold" fill="#231a17" stroke="#231a17" stroke-width="0.6" textLength="46.68" lengthAdjust="spacingAndGlyphs">Mayo</text>
<text transform="translate(608.11 1146.00) rotate(-90)" x="0" y="0" text-anchor="end" font-size="22" font-weight="bold" fill="#231a17" stroke="#231a17" stroke-width="0.6" textLength="16.25" lengthAdjust="spacingAndGlyphs">14</text>
<text transform="translate(608.11 1171.50) rotate(-90)" x="0" y="0" text-anchor="end" font-size="22" font-weight="bold" fill="#231a17" stroke="#231a17" stroke-width="0.6" textLength="48.69" lengthAdjust="spacingAndGlyphs">Junio</text>
<text transform="translate(635.99 1146.00) rotate(-90)" x="0" y="0" text-anchor="end" font-size="22" font-weight="bold" fill="#231a17" stroke="#231a17" stroke-width="0.6" textLength="16.25" lengthAdjust="spacingAndGlyphs">19</text>
<text transform="translate(635.99 1171.50) rotate(-90)" x="0" y="0" text-anchor="end" font-size="22" font-weight="bold" fill="#231a17" stroke="#231a17" stroke-width="0.6" textLength="42.61" lengthAdjust="spacingAndGlyphs">Julio</text>
<text transform="translate(663.87 1146.00) rotate(-90)" x="0" y="0" text-anchor="end" font-size="22" font-weight="bold" fill="#231a17" stroke="#231a17" stroke-width="0.6" textLength="16.25" lengthAdjust="spacingAndGlyphs">16</text>
<text transform="translate(663.87 1171.50) rotate(-90)" x="0" y="0" text-anchor="end" font-size="22" font-weight="bold" fill="#231a17" stroke="#231a17" stroke-width="0.6" textLength="62.88" lengthAdjust="spacingAndGlyphs">Agosto</text>
<text transform="translate(691.75 1146.00) rotate(-90)" x="0" y="0" text-anchor="end" font-size="22" font-weight="bold" fill="#231a17" stroke="#231a17" stroke-width="0.6" textLength="16.25" lengthAdjust="spacingAndGlyphs">13</text>
<text transform="translate(691.75 1171.50) rotate(-90)" x="0" y="0" text-anchor="end" font-size="22" font-weight="bold" fill="#231a17" stroke="#231a17" stroke-width="0.6" textLength="99.45" lengthAdjust="spacingAndGlyphs">Septiembre</text>
<text transform="translate(719.63 1146.00) rotate(-90)" x="0" y="0" text-anchor="end" font-size="22" font-weight="bold" fill="#231a17" stroke="#231a17" stroke-width="0.6" textLength="16.25" lengthAdjust="spacingAndGlyphs">18</text>
<text transform="translate(719.63 1171.50) rotate(-90)" x="0" y="0" text-anchor="end" font-size="22" font-weight="bold" fill="#231a17" stroke="#231a17" stroke-width="0.6" textLength="70.01" lengthAdjust="spacingAndGlyphs">Octubre</text>
<text transform="translate(747.51 1146.00) rotate(-90)" x="0" y="0" text-anchor="end" font-size="22" font-weight="bold" fill="#231a17" stroke="#231a17" stroke-width="0.6" textLength="16.25" lengthAdjust="spacingAndGlyphs">15</text>
<text transform="translate(747.51 1171.50) rotate(-90)" x="0" y="0" text-anchor="end" font-size="22" font-weight="bold" fill="#231a17" stroke="#231a17" stroke-width="0.6" textLength="94.38" lengthAdjust="spacingAndGlyphs">Noviembre</text>
<text transform="translate(775.39 1146.00) rotate(-90)" x="0" y="0" text-anchor="end" font-size="22" font-weight="bold" fill="#231a17" stroke="#231a17" stroke-width="0.6" textLength="16.25" lengthAdjust="spacingAndGlyphs">13</text>
<text transform="translate(775.39 1171.50) rotate(-90)" x="0" y="0" text-anchor="end" font-size="22" font-weight="bold" fill="#231a17" stroke="#231a17" stroke-width="0.6" textLength="88.30" lengthAdjust="spacingAndGlyphs">Diciembre</text>
<text transform="translate(803.27 1146.00) rotate(-90)" x="0" y="0" text-anchor="end" font-size="22" font-weight="bold" fill="#231a17" stroke="#231a17" stroke-width="0.6" textLength="16.25" lengthAdjust="spacingAndGlyphs">17</text>
<text transform="translate(803.27 1171.50) rotate(-90)" x="0" y="0" text-anchor="end" font-size="22" font-weight="bold" fill="#231a17" stroke="#231a17" stroke-width="0.6" textLength="51.75" lengthAdjust="spacingAndGlyphs">Enero</text>
<text transform="translate(831.15 1146.00) rotate(-90)" x="0" y="0" text-anchor="end" font-size="22" font-weight="bold" fill="#231a17" stroke="#231a17" stroke-width="0.6" textLength="16.25" lengthAdjust="spacingAndGlyphs">14</text>
<text transform="translate(831.15 1171.50) rotate(-90)" x="0" y="0" text-anchor="end" font-size="22" font-weight="bold" fill="#231a17" stroke="#231a17" stroke-width="0.6" textLength="67.98" lengthAdjust="spacingAndGlyphs">Febrero</text>
<text transform="translate(859.03 1146.00) rotate(-90)" x="0" y="0" text-anchor="end" font-size="22" font-weight="bold" fill="#231a17" stroke="#231a17" stroke-width="0.6" textLength="16.25" lengthAdjust="spacingAndGlyphs">13</text>
<text transform="translate(859.03 1171.50) rotate(-90)" x="0" y="0" text-anchor="end" font-size="22" font-weight="bold" fill="#231a17" stroke="#231a17" stroke-width="0.6" textLength="52.76" lengthAdjust="spacingAndGlyphs">Marzo</text>
<text transform="translate(886.91 1146.00) rotate(-90)" x="0" y="0" text-anchor="end" font-size="22" font-weight="bold" fill="#231a17" stroke="#231a17" stroke-width="0.6" textLength="16.25" lengthAdjust="spacingAndGlyphs">17</text>
<text transform="translate(886.91 1171.50) rotate(-90)" x="0" y="0" text-anchor="end" font-size="22" font-weight="bold" fill="#231a17" stroke="#231a17" stroke-width="0.6" textLength="41.59" lengthAdjust="spacingAndGlyphs">Abril</text>
<text transform="translate(914.79 1146.00) rotate(-90)" x="0" y="0" text-anchor="end" font-size="22" font-weight="bold" fill="#231a17" stroke="#231a17" stroke-width="0.6" textLength="16.25" lengthAdjust="spacingAndGlyphs">15</text>
<text transform="translate(914.79 1171.50) rotate(-90)" x="0" y="0" text-anchor="end" font-size="22" font-weight="bold" fill="#231a17" stroke="#231a17" stroke-width="0.6" textLength="46.68" lengthAdjust="spacingAndGlyphs">Mayo</text>
<text transform="translate(942.67 1146.00) rotate(-90)" x="0" y="0" text-anchor="end" font-size="22" font-weight="bold" fill="#231a17" stroke="#231a17" stroke-width="0.6" textLength="16.25" lengthAdjust="spacingAndGlyphs">19</text>
<text transform="translate(942.67 1171.50) rotate(-90)" x="0" y="0" text-anchor="end" font-size="22" font-weight="bold" fill="#231a17" stroke="#231a17" stroke-width="0.6" textLength="48.69" lengthAdjust="spacingAndGlyphs">Junio</text>
<text transform="translate(970.55 1146.00) rotate(-90)" x="0" y="0" text-anchor="end" font-size="22" font-weight="bold" fill="#231a17" stroke="#231a17" stroke-width="0.6" textLength="16.25" lengthAdjust="spacingAndGlyphs">17</text>
<text transform="translate(970.55 1171.50) rotate(-90)" x="0" y="0" text-anchor="end" font-size="22" font-weight="bold" fill="#231a17" stroke="#231a17" stroke-width="0.6" textLength="42.61" lengthAdjust="spacingAndGlyphs">Julio</text>
<text transform="translate(998.43 1146.00) rotate(-90)" x="0" y="0" text-anchor="end" font-size="22" font-weight="bold" fill="#231a17" stroke="#231a17" stroke-width="0.6" textLength="16.25" lengthAdjust="spacingAndGlyphs">14</text>
<text transform="translate(998.43 1171.50) rotate(-90)" x="0" y="0" text-anchor="end" font-size="22" font-weight="bold" fill="#231a17" stroke="#231a17" stroke-width="0.6" textLength="62.88" lengthAdjust="spacingAndGlyphs">Agosto</text>
<text transform="translate(1026.31 1146.00) rotate(-90)" x="0" y="0" text-anchor="end" font-size="22" font-weight="bold" fill="#231a17" stroke="#231a17" stroke-width="0.6" textLength="16.25" lengthAdjust="spacingAndGlyphs">18</text>
<text transform="translate(1026.31 1171.50) rotate(-90)" x="0" y="0" text-anchor="end" font-size="22" font-weight="bold" fill="#231a17" stroke="#231a17" stroke-width="0.6" textLength="99.45" lengthAdjust="spacingAndGlyphs">Septiembre</text>
<text transform="translate(1054.19 1146.00) rotate(-90)" x="0" y="0" text-anchor="end" font-size="22" font-weight="bold" fill="#231a17" stroke="#231a17" stroke-width="0.6" textLength="16.25" lengthAdjust="spacingAndGlyphs">16</text>
<text transform="translate(1054.19 1171.50) rotate(-90)" x="0" y="0" text-anchor="end" font-size="22" font-weight="bold" fill="#231a17" stroke="#231a17" stroke-width="0.6" textLength="70.01" lengthAdjust="spacingAndGlyphs">Octubre</text>
<text transform="translate(1082.07 1146.00) rotate(-90)" x="0" y="0" text-anchor="end" font-size="22" font-weight="bold" fill="#231a17" stroke="#231a17" stroke-width="0.6" textLength="16.25" lengthAdjust="spacingAndGlyphs">13</text>
<text transform="translate(1082.07 1171.50) rotate(-90)" x="0" y="0" text-anchor="end" font-size="22" font-weight="bold" fill="#231a17" stroke="#231a17" stroke-width="0.6" textLength="94.38" lengthAdjust="spacingAndGlyphs">Noviembre</text>
<text transform="translate(1109.95 1146.00) rotate(-90)" x="0" y="0" text-anchor="end" font-size="22" font-weight="bold" fill="#231a17" stroke="#231a17" stroke-width="0.6" textLength="16.25" lengthAdjust="spacingAndGlyphs">18</text>
<text transform="translate(1109.95 1171.50) rotate(-90)" x="0" y="0" text-anchor="end" font-size="22" font-weight="bold" fill="#231a17" stroke="#231a17" stroke-width="0.6" textLength="88.30" lengthAdjust="spacingAndGlyphs">Diciembre</text>
<text transform="translate(1137.83 1146.00) rotate(-90)" x="0" y="0" text-anchor="end" font-size="22" font-weight="bold" fill="#231a17" stroke="#231a17" stroke-width="0.6" textLength="16.25" lengthAdjust="spacingAndGlyphs">15</text>
<text transform="translate(1137.83 1171.50) rotate(-90)" x="0" y="0" text-anchor="end" font-size="22" font-weight="bold" fill="#231a17" stroke="#231a17" stroke-width="0.6" textLength="51.75" lengthAdjust="spacingAndGlyphs">Enero</text>
<text transform="translate(1165.71 1146.00) rotate(-90)" x="0" y="0" text-anchor="end" font-size="22" font-weight="bold" fill="#231a17" stroke="#231a17" stroke-width="0.6" textLength="16.25" lengthAdjust="spacingAndGlyphs">19</text>
<text transform="translate(1165.71 1171.50) rotate(-90)" x="0" y="0" text-anchor="end" font-size="22" font-weight="bold" fill="#231a17" stroke="#231a17" stroke-width="0.6" textLength="67.98" lengthAdjust="spacingAndGlyphs">Febrero</text>
<text transform="translate(1193.59 1146.00) rotate(-90)" x="0" y="0" text-anchor="end" font-size="22" font-weight="bold" fill="#231a17" stroke="#231a17" stroke-width="0.6" textLength="16.25" lengthAdjust="spacingAndGlyphs">19</text>
<text transform="translate(1193.59 1171.50) rotate(-90)" x="0" y="0" text-anchor="end" font-size="22" font-weight="bold" fill="#231a17" stroke="#231a17" stroke-width="0.6" textLength="52.76" lengthAdjust="spacingAndGlyphs">Marzo</text>
<text transform="translate(1221.47 1146.00) rotate(-90)" x="0" y="0" text-anchor="end" font-size="22" font-weight="bold" fill="#231a17" stroke="#231a17" stroke-width="0.6" textLength="16.25" lengthAdjust="spacingAndGlyphs">16</text>
<text transform="translate(1221.47 1171.50) rotate(-90)" x="0" y="0" text-anchor="end" font-size="22" font-weight="bold" fill="#231a17" stroke="#231a17" stroke-width="0.6" textLength="41.59" lengthAdjust="spacingAndGlyphs">Abril</text>
<text transform="translate(1249.35 1146.00) rotate(-90)" x="0" y="0" text-anchor="end" font-size="22" font-weight="bold" fill="#231a17" stroke="#231a17" stroke-width="0.6" textLength="16.25" lengthAdjust="spacingAndGlyphs">14</text>
<text transform="translate(1249.35 1171.50) rotate(-90)" x="0" y="0" text-anchor="end" font-size="22" font-weight="bold" fill="#231a17" stroke="#231a17" stroke-width="0.6" textLength="46.68" lengthAdjust="spacingAndGlyphs">Mayo</text>
<text transform="translate(1277.23 1146.00) rotate(-90)" x="0" y="0" text-anchor="end" font-size="22" font-weight="bold" fill="#231a17" stroke="#231a17" stroke-width="0.6" textLength="16.25" lengthAdjust="spacingAndGlyphs">18</text>
<text transform="translate(1277.23 1171.50) rotate(-90)" x="0" y="0" text-anchor="end" font-size="22" font-weight="bold" fill="#231a17" stroke="#231a17" stroke-width="0.6" textLength="48.69" lengthAdjust="spacingAndGlyphs">Junio</text>
<text transform="translate(1305.11 1146.00) rotate(-90)" x="0" y="0" text-anchor="end" font-size="22" font-weight="bold" fill="#231a17" stroke="#231a17" stroke-width="0.6" textLength="16.25" lengthAdjust="spacingAndGlyphs">16</text>
<text transform="translate(1305.11 1171.50) rotate(-90)" x="0" y="0" text-anchor="end" font-size="22" font-weight="bold" fill="#231a17" stroke="#231a17" stroke-width="0.6" textLength="42.61" lengthAdjust="spacingAndGlyphs">Julio</text>
<text transform="translate(1332.99 1146.00) rotate(-90)" x="0" y="0" text-anchor="end" font-size="22" font-weight="bold" fill="#231a17" stroke="#231a17" stroke-width="0.6" textLength="16.25" lengthAdjust="spacingAndGlyphs">13</text>
<text transform="translate(1332.99 1171.50) rotate(-90)" x="0" y="0" text-anchor="end" font-size="22" font-weight="bold" fill="#231a17" stroke="#231a17" stroke-width="0.6" textLength="62.88" lengthAdjust="spacingAndGlyphs">Agosto</text>
<text transform="translate(1360.87 1146.00) rotate(-90)" x="0" y="0" text-anchor="end" font-size="22" font-weight="bold" fill="#231a17" stroke="#231a17" stroke-width="0.6" textLength="16.25" lengthAdjust="spacingAndGlyphs">17</text>
<text transform="translate(1360.87 1171.50) rotate(-90)" x="0" y="0" text-anchor="end" font-size="22" font-weight="bold" fill="#231a17" stroke="#231a17" stroke-width="0.6" textLength="99.45" lengthAdjust="spacingAndGlyphs">Septiembre</text>
<text transform="translate(1388.75 1146.00) rotate(-90)" x="0" y="0" text-anchor="end" font-size="22" font-weight="bold" fill="#231a17" stroke="#231a17" stroke-width="0.6" textLength="16.25" lengthAdjust="spacingAndGlyphs">15</text>
<text transform="translate(1388.75 1171.50) rotate(-90)" x="0" y="0" text-anchor="end" font-size="22" font-weight="bold" fill="#231a17" stroke="#231a17" stroke-width="0.6" textLength="70.01" lengthAdjust="spacingAndGlyphs">Octubre</text>
<text transform="translate(1416.63 1146.00) rotate(-90)" x="0" y="0" text-anchor="end" font-size="22" font-weight="bold" fill="#231a17" stroke="#231a17" stroke-width="0.6" textLength="16.25" lengthAdjust="spacingAndGlyphs">19</text>
<text transform="translate(1416.63 1171.50) rotate(-90)" x="0" y="0" text-anchor="end" font-size="22" font-weight="bold" fill="#231a17" stroke="#231a17" stroke-width="0.6" textLength="94.38" lengthAdjust="spacingAndGlyphs">Noviembre</text>
<text transform="translate(1444.51 1146.00) rotate(-90)" x="0" y="0" text-anchor="end" font-size="22" font-weight="bold" fill="#231a17" stroke="#231a17" stroke-width="0.6" textLength="16.25" lengthAdjust="spacingAndGlyphs">17</text>
<text transform="translate(1444.51 1171.50) rotate(-90)" x="0" y="0" text-anchor="end" font-size="22" font-weight="bold" fill="#231a17" stroke="#231a17" stroke-width="0.6" textLength="88.30" lengthAdjust="spacingAndGlyphs">Diciembre</text>
<text transform="translate(1472.39 1146.00) rotate(-90)" x="0" y="0" text-anchor="end" font-size="22" font-weight="bold" fill="#231a17" stroke="#231a17" stroke-width="0.6" textLength="16.25" lengthAdjust="spacingAndGlyphs">14</text>
<text transform="translate(1472.39 1171.50) rotate(-90)" x="0" y="0" text-anchor="end" font-size="22" font-weight="bold" fill="#231a17" stroke="#231a17" stroke-width="0.6" textLength="51.75" lengthAdjust="spacingAndGlyphs">Enero</text>
<text transform="translate(1500.27 1146.00) rotate(-90)" x="0" y="0" text-anchor="end" font-size="22" font-weight="bold" fill="#231a17" stroke="#231a17" stroke-width="0.6" textLength="16.25" lengthAdjust="spacingAndGlyphs">18</text>
<text transform="translate(1500.27 1171.50) rotate(-90)" x="0" y="0" text-anchor="end" font-size="22" font-weight="bold" fill="#231a17" stroke="#231a17" stroke-width="0.6" textLength="67.98" lengthAdjust="spacingAndGlyphs">Febrero</text>
<text transform="translate(1528.15 1146.00) rotate(-90)" x="0" y="0" text-anchor="end" font-size="22" font-weight="bold" fill="#231a17" stroke="#231a17" stroke-width="0.6" textLength="16.25" lengthAdjust="spacingAndGlyphs">18</text>
<text transform="translate(1528.15 1171.50) rotate(-90)" x="0" y="0" text-anchor="end" font-size="22" font-weight="bold" fill="#231a17" stroke="#231a17" stroke-width="0.6" textLength="52.76" lengthAdjust="spacingAndGlyphs">Marzo</text>
<text transform="translate(1556.03 1146.00) rotate(-90)" x="0" y="0" text-anchor="end" font-size="22" font-weight="bold" fill="#231a17" stroke="#231a17" stroke-width="0.6" textLength="16.25" lengthAdjust="spacingAndGlyphs">13</text>
<text transform="translate(1556.03 1171.50) rotate(-90)" x="0" y="0" text-anchor="end" font-size="22" font-weight="bold" fill="#231a17" stroke="#231a17" stroke-width="0.6" textLength="41.59" lengthAdjust="spacingAndGlyphs">Abril</text>
<text transform="translate(1583.91 1146.00) rotate(-90)" x="0" y="0" text-anchor="end" font-size="22" font-weight="bold" fill="#231a17" stroke="#231a17" stroke-width="0.6" textLength="16.25" lengthAdjust="spacingAndGlyphs">13</text>
<text transform="translate(1583.91 1171.50) rotate(-90)" x="0" y="0" text-anchor="end" font-size="22" font-weight="bold" fill="#231a17" stroke="#231a17" stroke-width="0.6" textLength="46.68" lengthAdjust="spacingAndGlyphs">Mayo</text>
<text transform="translate(1611.79 1146.00) rotate(-90)" x="0" y="0" text-anchor="end" font-size="22" font-weight="bold" fill="#231a17" stroke="#231a17" stroke-width="0.6" textLength="16.25" lengthAdjust="spacingAndGlyphs">17</text>
<text transform="translate(1611.79 1171.50) rotate(-90)" x="0" y="0" text-anchor="end" font-size="22" font-weight="bold" fill="#231a17" stroke="#231a17" stroke-width="0.6" textLength="48.69" lengthAdjust="spacingAndGlyphs">Junio</text>
<text transform="translate(1639.67 1146.00) rotate(-90)" x="0" y="0" text-anchor="end" font-size="22" font-weight="bold" fill="#231a17" stroke="#231a17" stroke-width="0.6" textLength="16.25" lengthAdjust="spacingAndGlyphs">15</text>
<text transform="translate(1639.67 1171.50) rotate(-90)" x="0" y="0" text-anchor="end" font-size="22" font-weight="bold" fill="#231a17" stroke="#231a17" stroke-width="0.6" textLength="42.61" lengthAdjust="spacingAndGlyphs">Julio</text>
<text transform="translate(1667.55 1146.00) rotate(-90)" x="0" y="0" text-anchor="end" font-size="22" font-weight="bold" fill="#231a17" stroke="#231a17" stroke-width="0.6" textLength="16.25" lengthAdjust="spacingAndGlyphs">22</text>
<text transform="translate(1667.55 1171.50) rotate(-90)" x="0" y="0" text-anchor="end" font-size="22" font-weight="bold" fill="#231a17" stroke="#231a17" stroke-width="0.6" textLength="42.61" lengthAdjust="spacingAndGlyphs">Julio</text>
<text transform="translate(1695.43 1146.00) rotate(-90)" x="0" y="0" text-anchor="end" font-size="22" font-weight="bold" fill="#231a17" stroke="#231a17" stroke-width="0.6" textLength="16.25" lengthAdjust="spacingAndGlyphs">29</text>
<text transform="translate(1695.43 1171.50) rotate(-90)" x="0" y="0" text-anchor="end" font-size="22" font-weight="bold" fill="#231a17" stroke="#231a17" stroke-width="0.6" textLength="42.61" lengthAdjust="spacingAndGlyphs">Julio</text>
<text transform="translate(1723.31 1146.00) rotate(-90)" x="0" y="0" text-anchor="end" font-size="22" font-weight="bold" fill="#231a17" stroke="#231a17" stroke-width="0.6" textLength="8.12" lengthAdjust="spacingAndGlyphs">5</text>
<text transform="translate(1723.31 1171.50) rotate(-90)" x="0" y="0" text-anchor="end" font-size="22" font-weight="bold" fill="#231a17" stroke="#231a17" stroke-width="0.6" textLength="62.88" lengthAdjust="spacingAndGlyphs">Agosto</text>
<text transform="translate(1751.19 1146.00) rotate(-90)" x="0" y="0" text-anchor="end" font-size="22" font-weight="bold" fill="#231a17" stroke="#231a17" stroke-width="0.6" textLength="16.25" lengthAdjust="spacingAndGlyphs">16</text>
<text transform="translate(1751.19 1171.50) rotate(-90)" x="0" y="0" text-anchor="end" font-size="22" font-weight="bold" fill="#231a17" stroke="#231a17" stroke-width="0.6" textLength="62.88" lengthAdjust="spacingAndGlyphs">Agosto</text>
<text transform="translate(289.50 1314.30) rotate(-90)" x="0" y="0" text-anchor="middle" font-size="21.2" font-weight="bold" fill="#231a17" stroke="#231a17" stroke-width="0.7" textLength="38.50" lengthAdjust="spacingAndGlyphs">2018</text>
<text transform="translate(620.50 1314.30) rotate(-90)" x="0" y="0" text-anchor="middle" font-size="21.2" font-weight="bold" fill="#231a17" stroke="#231a17" stroke-width="0.7" textLength="38.50" lengthAdjust="spacingAndGlyphs">2019</text>
<text transform="translate(959.50 1314.30) rotate(-90)" x="0" y="0" text-anchor="middle" font-size="21.2" font-weight="bold" fill="#231a17" stroke="#231a17" stroke-width="0.7" textLength="38.50" lengthAdjust="spacingAndGlyphs">2020</text>
<text transform="translate(1292.50 1314.30) rotate(-90)" x="0" y="0" text-anchor="middle" font-size="21.2" font-weight="bold" fill="#231a17" stroke="#231a17" stroke-width="0.7" textLength="38.50" lengthAdjust="spacingAndGlyphs">2021</text>
<text transform="translate(1613.00 1314.30) rotate(-90)" x="0" y="0" text-anchor="middle" font-size="21.2" font-weight="bold" fill="#231a17" stroke="#231a17" stroke-width="0.7" textLength="38.50" lengthAdjust="spacingAndGlyphs">2022</text>
<text transform="translate(1895.40 943.90) rotate(-90)" x="0" y="0" font-size="44.6" font-weight="bold" fill="#231a17" stroke="#231a17" stroke-width="1.2" textLength="198.80" lengthAdjust="spacingAndGlyphs">SigloDATA</text>
<path d="M1694.97 124.75 A5.00 5.00 0 0 1 1703.03 124.75 L1723.62 152.84 A5.00 5.00 0 0 1 1719.59 160.80 L1711.75 160.80 L1711.75 181.00 A5.00 5.00 0 0 1 1706.75 186.00 L1691.25 186.00 A5.00 5.00 0 0 1 1686.25 181.00 L1686.25 160.80 L1678.41 160.80 A5.00 5.00 0 0 1 1674.38 152.84 Z" fill="#9d8f7b"/>
<path d="M1758.37 99.35 A5.00 5.00 0 0 1 1766.43 99.35 L1787.02 127.44 A5.00 5.00 0 0 1 1782.99 135.40 L1775.15 135.40 L1775.15 155.60 A5.00 5.00 0 0 1 1770.15 160.60 L1754.65 160.60 A5.00 5.00 0 0 1 1749.65 155.60 L1749.65 135.40 L1741.81 135.40 A5.00 5.00 0 0 1 1737.78 127.44 Z" fill="#9d8f7b"/>
<path d="M1821.77 124.75 A5.00 5.00 0 0 1 1829.83 124.75 L1850.42 152.84 A5.00 5.00 0 0 1 1846.39 160.80 L1838.55 160.80 L1838.55 181.00 A5.00 5.00 0 0 1 1833.55 186.00 L1818.05 186.00 A5.00 5.00 0 0 1 1813.05 181.00 L1813.05 160.80 L1805.21 160.80 A5.00 5.00 0 0 1 1801.18 152.84 Z" fill="#9d8f7b"/>
<path d="M1733.15 178.86 A9.50 9.50 0 0 1 1741.71 173.50 L1783.09 173.50 A9.50 9.50 0 0 1 1791.65 178.86 L1806.45 209.44 A10.00 10.00 0 0 1 1797.45 223.80 L1727.35 223.80 A10.00 10.00 0 0 1 1718.35 209.44 Z" fill="#d9cbb6"/>
<clipPath id="cpb0"><rect x="1682.40" y="171.50" width="160.00" height="14.70"/></clipPath>
<path clip-path="url(#cpb0)" d="M1733.15 178.86 A9.50 9.50 0 0 1 1741.71 173.50 L1783.09 173.50 A9.50 9.50 0 0 1 1791.65 178.86 L1806.45 209.44 A10.00 10.00 0 0 1 1797.45 223.80 L1727.35 223.80 A10.00 10.00 0 0 1 1718.35 209.44 Z" fill="#c5b7a3"/>
<path d="M1688.80 229.26 A9.50 9.50 0 0 1 1697.36 223.90 L1738.74 223.90 A9.50 9.50 0 0 1 1747.30 229.26 L1762.10 259.84 A10.00 10.00 0 0 1 1753.10 274.20 L1683.00 274.20 A10.00 10.00 0 0 1 1674.00 259.84 Z" fill="#d9cbb6"/>
<clipPath id="cpb1"><rect x="1638.05" y="221.90" width="160.00" height="14.70"/></clipPath>
<path clip-path="url(#cpb1)" d="M1688.80 229.26 A9.50 9.50 0 0 1 1697.36 223.90 L1738.74 223.90 A9.50 9.50 0 0 1 1747.30 229.26 L1762.10 259.84 A10.00 10.00 0 0 1 1753.10 274.20 L1683.00 274.20 A10.00 10.00 0 0 1 1674.00 259.84 Z" fill="#c5b7a3"/>
<path d="M1777.70 229.26 A9.50 9.50 0 0 1 1786.26 223.90 L1827.64 223.90 A9.50 9.50 0 0 1 1836.20 229.26 L1851.00 259.84 A10.00 10.00 0 0 1 1842.00 274.20 L1771.90 274.20 A10.00 10.00 0 0 1 1762.90 259.84 Z" fill="#d9cbb6"/>
<clipPath id="cpb2"><rect x="1726.95" y="221.90" width="160.00" height="14.70"/></clipPath>
<path clip-path="url(#cpb2)" d="M1777.70 229.26 A9.50 9.50 0 0 1 1786.26 223.90 L1827.64 223.90 A9.50 9.50 0 0 1 1836.20 229.26 L1851.00 259.84 A10.00 10.00 0 0 1 1842.00 274.20 L1771.90 274.20 A10.00 10.00 0 0 1 1762.90 259.84 Z" fill="#c5b7a3"/>
</svg></body></html>
